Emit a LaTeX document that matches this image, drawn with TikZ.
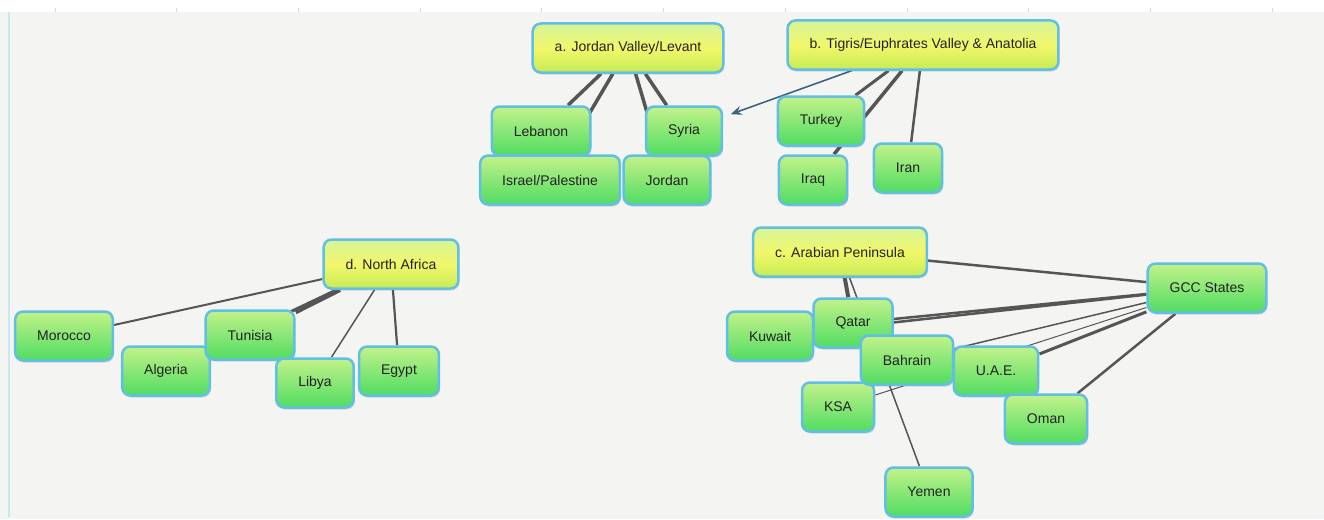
\documentclass[tikz,border=0pt]{standalone}
\usepackage{fontspec}
\setmainfont{Liberation Sans}
\usetikzlibrary{arrows.meta,shadows}
\pgfdeclarelayer{paper}
\pgfdeclarelayer{links}
\pgfsetlayers{paper,links,main}
\definecolor{rim}{HTML}{62BFE4}
\definecolor{paper}{HTML}{F4F4F3}
\definecolor{sidebar}{HTML}{C5E9F0}
\definecolor{tickgray}{HTML}{DADADA}
\definecolor{wire}{HTML}{555555}
\definecolor{arrowblue}{HTML}{3E6480}
\definecolor{ink}{HTML}{222222}
\definecolor{regiontop}{HTML}{D6F49A}
\definecolor{regionmid}{HTML}{F2F76A}
\definecolor{regionbot}{HTML}{C6EC55}
\definecolor{leaftop}{HTML}{C2F28A}
\definecolor{leafbot}{HTML}{50DC62}

\begin{document}
\begin{tikzpicture}[x=1pt, y=-1pt, >={Stealth[length=11pt,width=9pt]},
		box/.style={draw=rim, line width=2.5pt, rounded corners=8pt, inner xsep=22pt,
			minimum height=49pt, font=\fontsize{14}{16}\selectfont, text=ink,
			drop shadow={opacity=0.25, shadow xshift=1pt, shadow yshift=-2pt}},
		region/.style={box, top color=regiontop, bottom color=regionbot, middle color=regionmid},
		country/.style={box, top color=leaftop, bottom color=leafbot},
		link/.style={draw=wire, line width=#1},
		link/.default=3pt,
		pointer/.style={->, draw=arrowblue, line width=1.6pt, shorten >=8pt}]
	\useasboundingbox (0,0) rectangle (1324,519);
	\begin{pgfonlayer}{paper}
		\fill[white] (0,0) rectangle (1324,519);
		\fill[paper] (0,12) rectangle (1324,519);
		\draw[sidebar, line width=2pt] (8.5,12) -- (8.5,517);
		\foreach \k in {0,...,10}
			\draw[tickgray, line width=0.8pt] ({55+121.7*\k},8) -- ({55+121.7*\k},12);
	\end{pgfonlayer}

	% a. Jordan Valley / Levant
	\node[region] (levant) at (628,48) {a. Jordan Valley/Levant};
	\node[country] (lebanon) at (541,131) {Lebanon};
	\node[country] (israel) at (550,180) {Israel/Palestine};
	\node[country] (jordan) at (667,180) {Jordan};
	\node[country] (syria) at (684,131) {Syria};

	% b. Tigris / Euphrates
	\node[region] (tigris) at (923,45) {b. Tigris/Euphrates Valley \& Anatolia};
	\node[country] (iraq) at (813,180) {Iraq};
	\node[country] (turkey) at (821,121) {Turkey};
	\node[country] (iran) at (908,168) {Iran};

	% d. North Africa
	\node[region] (nafrica) at (391,264) {d. North Africa};
	\node[country] (morocco) at (64,336) {Morocco};
	\node[country] (algeria) at (166,371) {Algeria};
	\node[country] (tunisia) at (250,335) {Tunisia};
	\node[country] (libya) at (315,383) {Libya};
	\node[country] (egypt) at (399,371) {Egypt};

	% c. Arabian Peninsula
	\node[region] (arabia) at (840,252) {c. Arabian Peninsula};
	\node[country] (gcc) at (1207,288) {GCC States};
	\node[country] (kuwait) at (770,336) {Kuwait};
	\node[country] (qatar) at (853,323) {Qatar};
	\node[country] (ksa) at (838,407) {KSA};
	\node[country] (bahrain) at (907,360) {Bahrain};
	\node[country] (uae) at (996,371) {U.A.E.};
	\node[country] (oman) at (1046,419) {Oman};
	\node[country] (yemen) at (929,492) {Yemen};

	\begin{pgfonlayer}{links}
		\foreach \c in {lebanon,israel,syria,jordan}
			\draw[link=3.5pt] (levant) -- (\c);
		\draw[link=3pt] (tigris) -- (turkey);
		\draw[link=3.5pt] (tigris) -- (iraq);
		\draw[link=2.5pt] (tigris) -- (iran);
		\draw[pointer] (tigris) -- (syria);

		\draw[link=2pt] (nafrica) -- (morocco);
		\draw[link=4.5pt] (nafrica) -- (tunisia);
		\draw[link=3pt] (nafrica) -- (algeria);
		\draw[link=1.5pt] (nafrica) -- (libya);
		\draw[link=2.2pt] (nafrica) -- (egypt);

		\draw[link=4pt] (arabia) -- (qatar);
		\draw[link=2.5pt] (arabia) -- (gcc);
		\draw[link=1.5pt] (arabia) -- (yemen);
		\draw[link=2.5pt] (gcc) -- (qatar);
		\draw[link=2.5pt] (gcc) -- (kuwait);
		\draw[link=1.5pt] (gcc) -- (bahrain);
		\draw[link=3pt] (gcc) -- (uae);
		\draw[link=1pt] (gcc) -- (ksa);
		\draw[link=2.5pt] (gcc) -- (oman);
	\end{pgfonlayer}
\end{tikzpicture}
\end{document}
